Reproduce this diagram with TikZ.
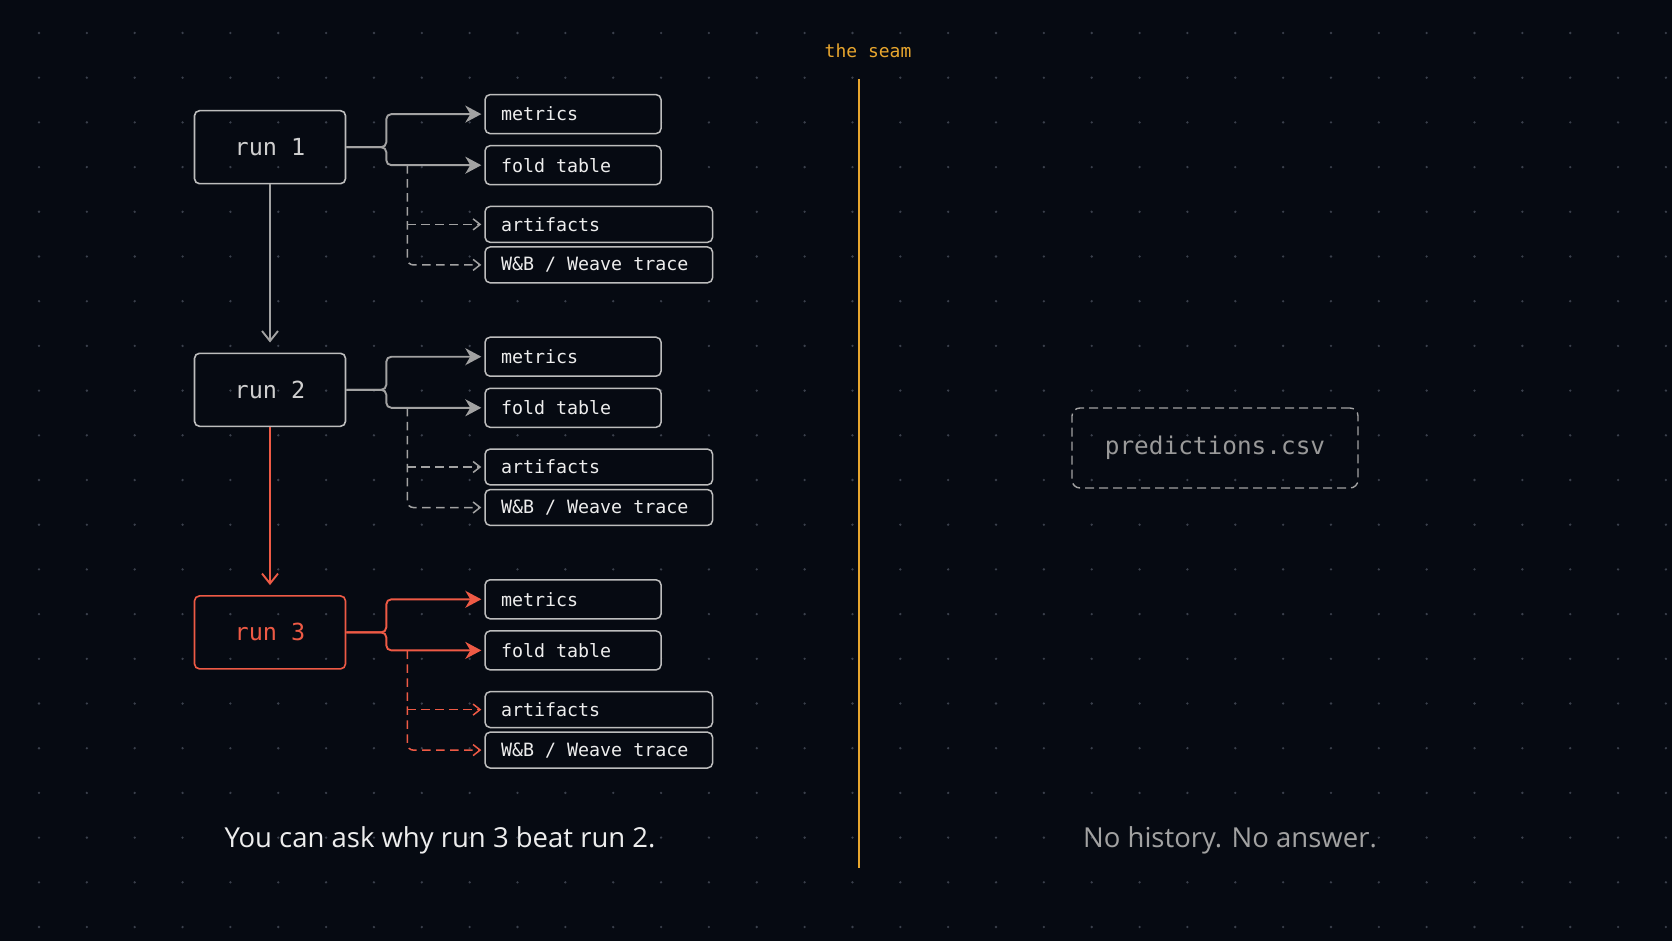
\documentclass[tikz,border=0pt]{standalone}
\usepackage{fontspec}
\usepackage{tikz}
\usetikzlibrary{arrows.meta,positioning}
\newfontfamily\codefont{DejaVu Sans Mono}
\newfontfamily\talkfont{Open Sans}
\definecolor{bgnavy}{HTML}{060A12}
\definecolor{griddot}{HTML}{3A404C}
\definecolor{linegray}{HTML}{A2A2A2}
\definecolor{boxgray}{HTML}{BDBDBD}
\definecolor{runtext}{HTML}{CFCFCF}
\definecolor{labelwhite}{HTML}{EDEDED}
\definecolor{runred}{HTML}{EE5A45}
\definecolor{seamgold}{HTML}{E8A62E}
\definecolor{mutedgray}{HTML}{A2A2A2}

\begin{document}
\begin{tikzpicture}[x=1pt,y=-1pt,
        runbox/.style={draw=boxgray,line width=1.6pt,rounded corners=5pt,minimum width=151pt,
          minimum height=73pt,text=runtext,font={\codefont\fontsize{23.5}{27}\selectfont}},
        runhl/.style={runbox,draw=runred,text=runred},
        outbox/.style={draw=boxgray,line width=1.5pt,rounded corners=5pt,fill=bgnavy,text=labelwhite,
          font={\codefont\fontsize{18.3}{21}\selectfont},text width=144pt,align=flush left,
          inner xsep=16pt,inner ysep=0pt,minimum height=39pt},
        widebox/.style={outbox,text width=195.5pt,minimum height=35.8pt},
        arr/.style={-{Stealth[length=16pt,width=17pt,inset=5pt]},linegray,line width=1.9pt,
          rounded corners=5pt,shorten >=3pt},
        dasharr/.style={-{Straight Barb[length=7pt,width=11pt]},linegray,line width=1.5pt,
          dash pattern=on 8.5pt off 5.5pt,rounded corners=6pt,shorten >=3pt},
        down/.style={-{Straight Barb[length=10pt,width=16pt]},linegray,line width=1.9pt,shorten >=10pt},
        caption/.style={font={\talkfont\fontsize{27.5}{32}\selectfont},text=labelwhite}]
        % background and dot grid
        \fill[bgnavy] (0,0) rectangle (1672,941);
        \useasboundingbox (0,0) rectangle (1672,941);
        \foreach \i in {0,...,34}
          \foreach \j in {0,...,20}
            \fill[griddot] (39+47.85*\i,33+44.7*\j) circle (1.3pt);
        % run 1
        \node[runbox](r1) at (270,147.2){run 1};
        \node[outbox,anchor=west](m1) at ([xshift=138pt,yshift=33.1pt]r1.east){metrics};
        \node[outbox,below=10.6pt of m1](f1){fold table};
        \node[widebox,below right=20.3pt and 0pt of f1.south west](a1){artifacts};
        \node[widebox,below=3.2pt of a1](w1){W\&B / Weave trace};
        \coordinate[right=61pt of r1.east](k1);
        \draw[arr](r1.east) -- ++(40,0) |- (m1.west);\draw[arr](r1.east) -- ++(40,0) |- (f1.west);
        \draw[dasharr](k1 |- f1.west) |- (w1.west);\draw[dasharr](k1 |- a1.west) -- (a1.west);
        % run 2
        \node[runbox,below=168pt of r1](r2){run 2};
        \node[outbox,anchor=west](m2) at ([xshift=138pt,yshift=33.1pt]r2.east){metrics};
        \node[outbox,below=10.6pt of m2](f2){fold table};
        \node[widebox,below right=20.3pt and 0pt of f2.south west](a2){artifacts};
        \node[widebox,below=3.2pt of a2](w2){W\&B / Weave trace};
        \coordinate[right=61pt of r2.east](k2);
        \draw[arr](r2.east) -- ++(40,0) |- (m2.west);\draw[arr](r2.east) -- ++(40,0) |- (f2.west);
        \draw[dasharr](k2 |- f2.west) |- (w2.west);\draw[dasharr](k2 |- a2.west) -- (a2.west);
        % run 3
        \node[runhl,below=168pt of r2](r3){run 3};
        \node[outbox,anchor=west](m3) at ([xshift=138pt,yshift=33.1pt]r3.east){metrics};
        \node[outbox,below=10.6pt of m3](f3){fold table};
        \node[widebox,below right=20.3pt and 0pt of f3.south west](a3){artifacts};
        \node[widebox,below=3.2pt of a3](w3){W\&B / Weave trace};
        \coordinate[right=61pt of r3.east](k3);
        \draw[arr,runred](r3.east) -- ++(40,0) |- (m3.west);\draw[arr,runred](r3.east) -- ++(40,0) |- (f3.west);
        \draw[dasharr,runred](k3 |- f3.west) |- (w3.west);\draw[dasharr,runred](k3 |- a3.west) -- (a3.west);
        % run to run
        \draw[down](r1) -- (r2);\draw[down,runred](r2) -- (r3);
        % the seam
        \coordinate(s0) at (859,79);\coordinate(s1) at (859,868);
        \draw[seamgold,line width=1.8pt](s0) -- (s1);
        \node[text=seamgold,font={\codefont\fontsize{18}{20}\selectfont}](seam) at (868,51){the seam};
        % right side
        \node[draw=mutedgray,dash pattern=on 9pt off 5pt,line width=1.4pt,rounded corners=8pt,
          minimum width=286pt,minimum height=80pt,text=mutedgray!110,
          font={\codefont\fontsize{24.4}{28}\selectfont}](csv) at (1215,448){\raisebox{-3pt}{predictions.csv}};
        % captions
        \node[caption](yes) at (440,840){You can ask why run 3 beat run 2.};
        \node[caption,text=mutedgray](no) at (1230,840){No history. No answer.};
      \end{tikzpicture}
\end{document}
